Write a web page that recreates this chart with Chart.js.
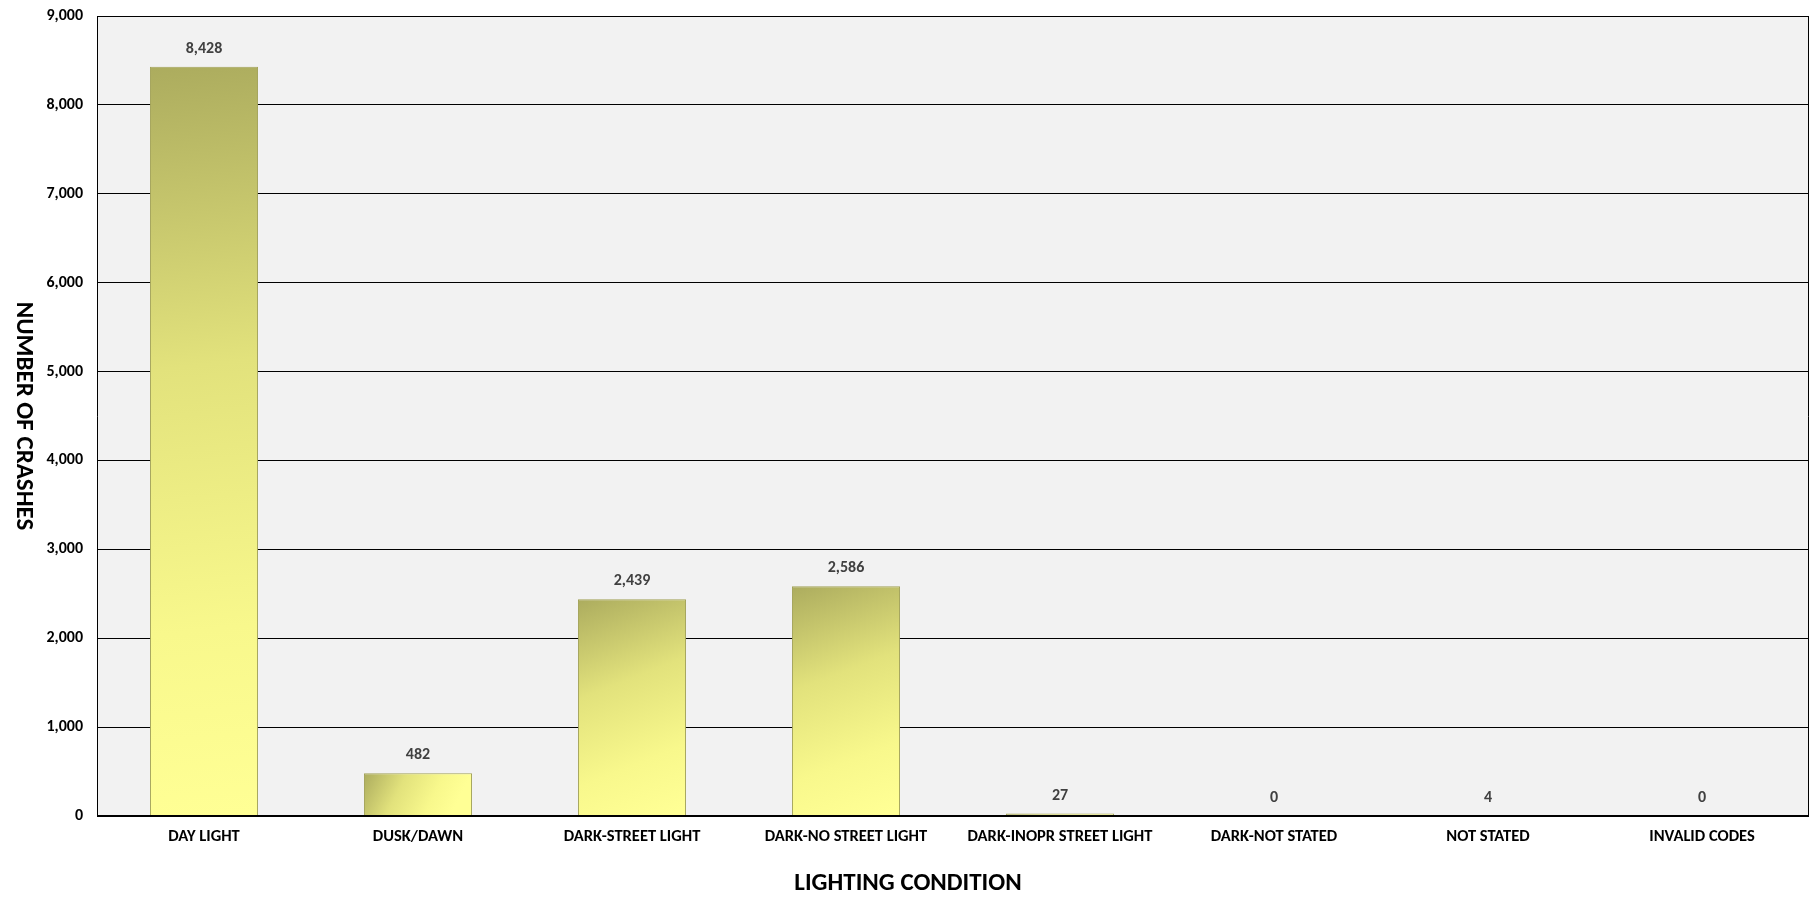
<!DOCTYPE html>
<html>
<head>
<meta charset="utf-8">
<script src="https://cdn.jsdelivr.net/npm/chart.js@4.4.1/dist/chart.umd.min.js"></script>
<style>
  html, body { margin: 0; padding: 0; background: #ffffff; }
  #wrap { width: 1816px; height: 898px; }
</style>
</head>
<body>
<div id="wrap"><canvas id="crashChart" width="1816" height="898"></canvas></div>
<script>
// ===============================
// DATA
// ===============================
const categories = [
  'DAY LIGHT',
  'DUSK/DAWN',
  'DARK-STREET LIGHT',
  'DARK-NO STREET LIGHT',
  'DARK-INOPR STREET LIGHT',
  'DARK-NOT STATED',
  'NOT STATED',
  'INVALID CODES'
];
const crashCounts = [8428, 482, 2439, 2586, 27, 0, 4, 0];
const yTicks = [0, 1000, 2000, 3000, 4000, 5000, 6000, 7000, 8000, 9000];

const xTitle = 'LIGHTING CONDITION';
const yTitle = 'NUMBER OF CRASHES';

const FONT = 'Carlito, Calibri, Lato, sans-serif';

// ===============================
// HELPERS
// ===============================
function fmt(v) {
  return Number(v).toLocaleString('en-US');
}

function barFill(ctx) {
  const chart = ctx.chart;
  const xs = chart.scales.x;
  const ys = chart.scales.y;
  if (!chart.chartArea || !xs || !ys || ctx.type !== 'data') return '#e8e87a';
  const xc = xs.getPixelForValue(ctx.dataIndex);
  const half = 54;
  const top = ys.getPixelForValue(ctx.raw);
  const base = ys.getPixelForValue(0);
  const g = chart.ctx.createLinearGradient(xc - half, top, xc + half * 0.6, Math.max(base, top + 1));
  g.addColorStop(0, '#acac5e');
  g.addColorStop(0.4, '#e2e27c');
  g.addColorStop(0.75, '#f8f88c');
  g.addColorStop(1, '#ffff95');
  return g;
}

// ===============================
// PLUGINS
// ===============================
const plotFrame = {
  id: 'plotFrame',
  beforeDraw(chart) {
    const { ctx, chartArea: a } = chart;
    ctx.save();
    ctx.fillStyle = '#f2f2f2';
    ctx.fillRect(a.left, a.top, a.right - a.left, a.bottom - a.top);
    ctx.restore();
  },
  afterDraw(chart) {
    const { ctx, chartArea: a } = chart;
    ctx.save();
    ctx.strokeStyle = '#000000';
    ctx.lineWidth = 1;
    ctx.beginPath();
    ctx.moveTo(a.left + 0.5, a.bottom);
    ctx.lineTo(a.left + 0.5, a.top + 0.5);
    ctx.lineTo(a.right - 0.5, a.top + 0.5);
    ctx.lineTo(a.right - 0.5, a.bottom);
    ctx.stroke();
    ctx.lineWidth = 2;
    ctx.beginPath();
    ctx.moveTo(a.left, a.bottom);
    ctx.lineTo(a.right, a.bottom);
    ctx.stroke();

    // axis titles
    ctx.fillStyle = '#000000';
    ctx.font = 'bold 25px ' + FONT;
    ctx.textAlign = 'center';
    ctx.textBaseline = 'middle';
    ctx.fillText(xTitle, chart.width / 2, 884);
    ctx.translate(23, (a.top + a.bottom) / 2);
    ctx.rotate(Math.PI / 2);
    ctx.fillText(yTitle, 0, 0);
    ctx.restore();
  }
};

const valueLabels = {
  id: 'valueLabels',
  afterDatasetsDraw(chart) {
    const { ctx } = chart;
    const meta = chart.getDatasetMeta(0);
    ctx.save();
    ctx.fillStyle = '#404040';
    ctx.font = 'bold 16px ' + FONT;
    ctx.textAlign = 'center';
    ctx.textBaseline = 'middle';
    meta.data.forEach((bar, i) => {
      ctx.fillText(fmt(crashCounts[i]), bar.x, bar.y - 18);
    });
    ctx.restore();
  }
};

// ===============================
// CHART
// ===============================
new Chart(document.getElementById('crashChart').getContext('2d'), {
  type: 'bar',
  data: {
    labels: categories,
    datasets: [
      {
        data: crashCounts,
        backgroundColor: barFill,
        borderColor: '#a3a35a',
        borderWidth: 1,
        borderSkipped: 'bottom',
        categoryPercentage: 1,
        barPercentage: 0.505
      }
    ]
  },
  options: {
    responsive: false,
    animation: false,
    devicePixelRatio: 1,
    layout: { padding: { top: 0, right: 7, left: 0, bottom: 0 } },
    plugins: {
      legend: { display: false },
      tooltip: { enabled: false }
    },
    scales: {
      x: {
        grid: { display: false, drawTicks: false },
        border: { display: false },
        ticks: {
          color: '#000000',
          font: { family: FONT, size: 16.5, weight: 'bold' },
          padding: 11,
          maxRotation: 0,
          autoSkip: false
        },
        afterFit(scale) { scale.height = 82; }
      },
      y: {
        min: 0,
        max: 9000,
        afterBuildTicks(scale) {
          scale.ticks = yTicks.map(v => ({ value: v }));
        },
        grid: { color: '#000000', lineWidth: 1, drawTicks: false },
        border: { display: false },
        ticks: {
          color: '#000000',
          font: { family: FONT, size: 16, weight: 'bold' },
          padding: 14,
          callback: v => fmt(v)
        },
        afterFit(scale) {
          scale.width = 97;
          scale.paddingTop = 16;
          scale.paddingBottom = 0;
        }
      }
    }
  },
  plugins: [plotFrame, valueLabels]
});
</script>
</body>
</html>
